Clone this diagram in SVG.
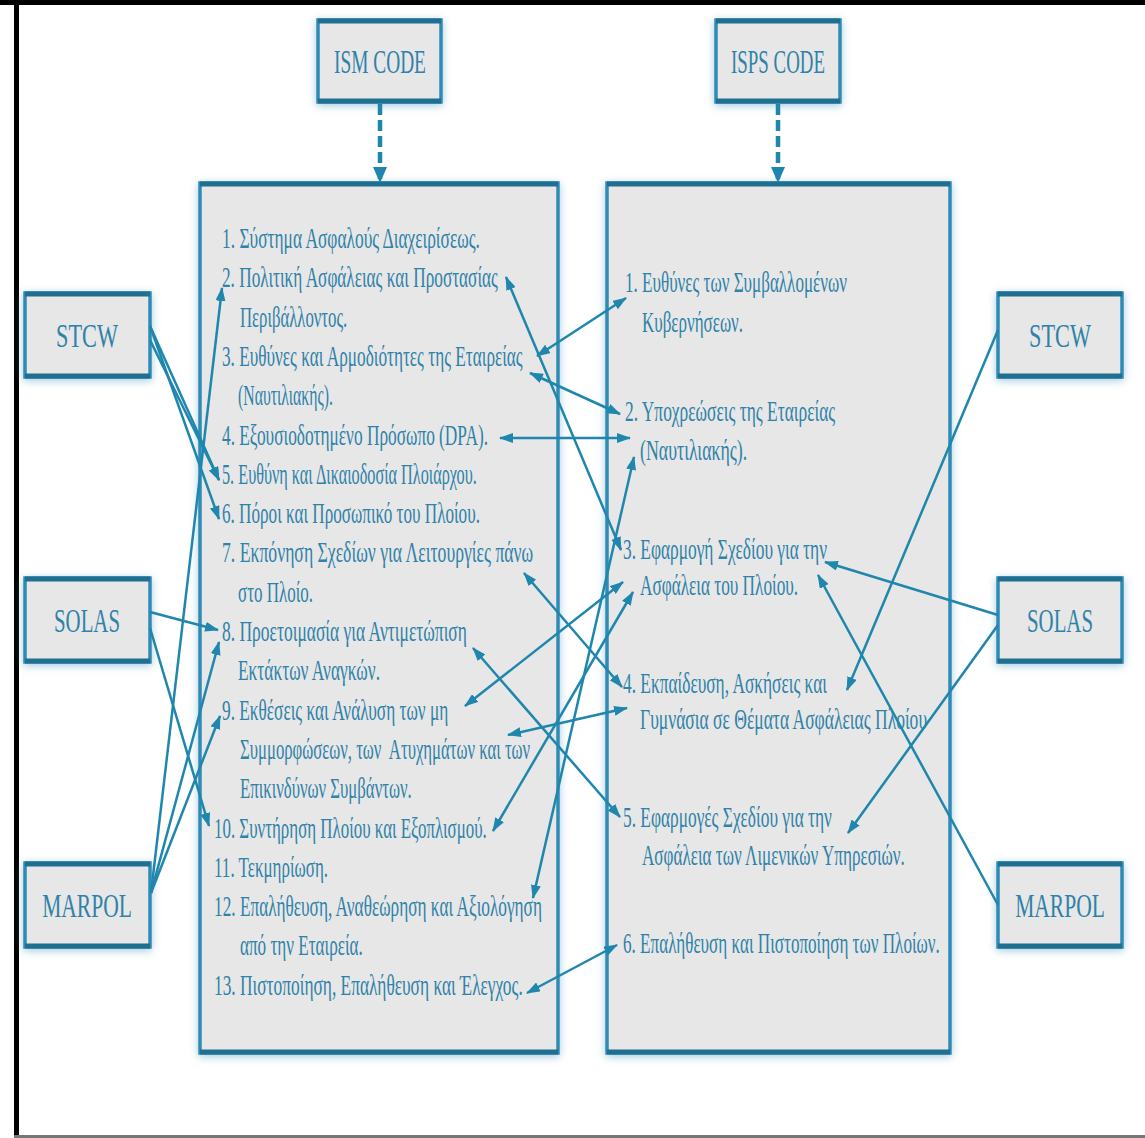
<svg xmlns="http://www.w3.org/2000/svg" width="1145" height="1138" viewBox="0 0 1145 1138">
<defs>
<style>
.t{font-family:"Liberation Serif","Times New Roman",serif;font-size:30px;fill:#2f82a9;white-space:pre}
.lbl{font-family:"Liberation Serif","Times New Roman",serif;font-size:33px;fill:#2f82a9;text-anchor:middle}
.box{fill:#e7e7e7;stroke:#2f8bb5;stroke-width:3.5}
.band{stroke:#1f6f91;stroke-width:5}
.edge{stroke:#1f86ad;stroke-width:2.5;fill:none}
.dash{stroke:#1f86ad;stroke-width:4.5;fill:none;stroke-dasharray:11 5}
</style>
<marker id="ah" viewBox="0 0 14 10" refX="13" refY="5" markerWidth="14" markerHeight="10" markerUnits="userSpaceOnUse" orient="auto-start-reverse">
<path d="M0,0 L14,5 L0,10 z" fill="#1f86ad"/>
</marker>
<marker id="dh" viewBox="0 0 16 14" refX="15" refY="7" markerWidth="16" markerHeight="14" markerUnits="userSpaceOnUse" orient="auto">
<path d="M0,0 L16,7 L0,14 z" fill="#1f86ad"/>
</marker>
<filter id="sh" x="-20%" y="-20%" width="140%" height="140%">
<feGaussianBlur in="SourceAlpha" stdDeviation="4"/>
<feOffset dy="2" result="b"/>
<feFlood flood-color="#7db4cd" flood-opacity="0.7"/>
<feComposite in2="b" operator="in"/>
<feMerge><feMergeNode/><feMergeNode in="SourceGraphic"/></feMerge>
</filter>
</defs>
<rect x="0" y="0" width="1145" height="1138" fill="#ffffff"/>
<rect x="0" y="0" width="1145" height="5" fill="#000"/>
<rect x="14" y="0" width="5" height="1138" fill="#000"/>
<rect x="14" y="1135" width="1131" height="3" fill="#777"/>

<g id="ism">
<rect class="box" x="318" y="20" width="123" height="82" filter="url(#sh)"/>
<line class="band" x1="318" y1="21" x2="441" y2="21"/><line class="band" x1="318" y1="101" x2="441" y2="101"/>
<text class="lbl" transform="translate(380,73) scale(0.68,1)" textLength="135" lengthAdjust="spacingAndGlyphs">ISM CODE</text>
</g>
<g id="isps">
<rect class="box" x="716" y="20" width="124" height="82" filter="url(#sh)"/>
<line class="band" x1="716" y1="21" x2="840" y2="21"/><line class="band" x1="716" y1="101" x2="840" y2="101"/>
<text class="lbl" transform="translate(778,73) scale(0.68,1)" textLength="138" lengthAdjust="spacingAndGlyphs">ISPS CODE</text>
</g>

<g id="ism-list">
<rect class="box" x="200" y="183" width="358" height="870" filter="url(#sh)"/>
<line class="band" x1="200" y1="184" x2="558" y2="184"/><line class="band" x1="200" y1="1052" x2="558" y2="1052"/>
<text class="t" transform="translate(222,248) scale(0.62,1)" textLength="416" lengthAdjust="spacingAndGlyphs">1. Σύστημα Ασφαλούς Διαχειρίσεως.</text>
<text class="t" transform="translate(222,287) scale(0.62,1)" textLength="445" lengthAdjust="spacingAndGlyphs">2. Πολιτική Ασφάλειας και Προστασίας</text>
<text class="t" transform="translate(240,327) scale(0.62,1)" textLength="173" lengthAdjust="spacingAndGlyphs">Περιβάλλοντος.</text>
<text class="t" transform="translate(222,366) scale(0.62,1)" textLength="485" lengthAdjust="spacingAndGlyphs">3. Ευθύνες και Αρμοδιότητες της Εταιρείας</text>
<text class="t" transform="translate(238,405) scale(0.62,1)" textLength="153" lengthAdjust="spacingAndGlyphs">(Ναυτιλιακής).</text>
<text class="t" transform="translate(222,445) scale(0.62,1)" textLength="429" lengthAdjust="spacingAndGlyphs">4. Εξουσιοδοτημένο Πρόσωπο (DPA).</text>
<text class="t" transform="translate(222,484) scale(0.62,1)" textLength="411" lengthAdjust="spacingAndGlyphs">5. Ευθύνη και Δικαιοδοσία Πλοιάρχου.</text>
<text class="t" transform="translate(222,523) scale(0.62,1)" textLength="416" lengthAdjust="spacingAndGlyphs">6. Πόροι και Προσωπικό του Πλοίου.</text>
<text class="t" transform="translate(222,562) scale(0.62,1)" textLength="502" lengthAdjust="spacingAndGlyphs">7. Εκπόνηση Σχεδίων για Λειτουργίες πάνω</text>
<text class="t" transform="translate(238,602) scale(0.62,1)" textLength="121" lengthAdjust="spacingAndGlyphs">στο Πλοίο.</text>
<text class="t" transform="translate(222,641) scale(0.62,1)" textLength="395" lengthAdjust="spacingAndGlyphs">8. Προετοιμασία για Αντιμετώπιση</text>
<text class="t" transform="translate(238,680) scale(0.62,1)" textLength="229" lengthAdjust="spacingAndGlyphs">Εκτάκτων Αναγκών.</text>
<text class="t" transform="translate(222,720) scale(0.62,1)" textLength="365" lengthAdjust="spacingAndGlyphs">9. Εκθέσεις και Ανάλυση των μη</text>
<text class="t" transform="translate(240,759) scale(0.62,1)" textLength="468" lengthAdjust="spacingAndGlyphs">Συμμορφώσεων, των  Ατυχημάτων και των</text>
<text class="t" transform="translate(240,798) scale(0.62,1)" textLength="277" lengthAdjust="spacingAndGlyphs">Επικινδύνων Συμβάντων.</text>
<text class="t" transform="translate(214,838) scale(0.62,1)" textLength="440" lengthAdjust="spacingAndGlyphs">10. Συντήρηση Πλοίου και Εξοπλισμού.</text>
<text class="t" transform="translate(214,877) scale(0.62,1)" textLength="184" lengthAdjust="spacingAndGlyphs">11. Τεκμηρίωση.</text>
<text class="t" transform="translate(214,916) scale(0.62,1)" textLength="529" lengthAdjust="spacingAndGlyphs">12. Επαλήθευση, Αναθεώρηση και Αξιολόγηση</text>
<text class="t" transform="translate(240,955) scale(0.62,1)" textLength="198" lengthAdjust="spacingAndGlyphs">από την Εταιρεία.</text>
<text class="t" transform="translate(214,995) scale(0.62,1)" textLength="498" lengthAdjust="spacingAndGlyphs">13. Πιστοποίηση, Επαλήθευση και Έλεγχος.</text>
</g>

<g id="isps-list">
<rect class="box" x="607" y="183" width="343" height="870" filter="url(#sh)"/>
<line class="band" x1="607" y1="184" x2="950" y2="184"/><line class="band" x1="607" y1="1052" x2="950" y2="1052"/>
<text class="t" transform="translate(625,292) scale(0.62,1)" textLength="358" lengthAdjust="spacingAndGlyphs">1. Ευθύνες των Συμβαλλομένων</text>
<text class="t" transform="translate(642,332) scale(0.62,1)" textLength="163" lengthAdjust="spacingAndGlyphs">Κυβερνήσεων.</text>
<text class="t" transform="translate(625,421) scale(0.62,1)" textLength="339" lengthAdjust="spacingAndGlyphs">2. Υποχρεώσεις της Εταιρείας</text>
<text class="t" transform="translate(640,460) scale(0.62,1)" textLength="173" lengthAdjust="spacingAndGlyphs">(Ναυτιλιακής).</text>
<text class="t" transform="translate(623,559) scale(0.62,1)" textLength="329" lengthAdjust="spacingAndGlyphs">3. Εφαρμογή Σχεδίου για την</text>
<text class="t" transform="translate(640,595) scale(0.62,1)" textLength="255" lengthAdjust="spacingAndGlyphs">Ασφάλεια του Πλοίου.</text>
<text class="t" transform="translate(623,693) scale(0.62,1)" textLength="329" lengthAdjust="spacingAndGlyphs">4. Εκπαίδευση, Ασκήσεις και</text>
<text class="t" transform="translate(640,729) scale(0.62,1)" textLength="463" lengthAdjust="spacingAndGlyphs">Γυμνάσια σε Θέματα Ασφάλειας Πλοίου</text>
<text class="t" transform="translate(623,827) scale(0.62,1)" textLength="337" lengthAdjust="spacingAndGlyphs">5. Εφαρμογές Σχεδίου για την</text>
<text class="t" transform="translate(642,865) scale(0.62,1)" textLength="424" lengthAdjust="spacingAndGlyphs">Ασφάλεια των Λιμενικών Υπηρεσιών.</text>
<text class="t" transform="translate(623,953) scale(0.62,1)" textLength="511" lengthAdjust="spacingAndGlyphs">6. Επαλήθευση και Πιστοποίηση των Πλοίων.</text>
</g>

<g id="stcw-left">
<rect class="box" x="25" y="293" width="125" height="84" filter="url(#sh)"/>
<line class="band" x1="25" y1="294" x2="150" y2="294"/><line class="band" x1="25" y1="376" x2="150" y2="376"/>
<text class="lbl" transform="translate(87,347) scale(0.68,1)" textLength="91" lengthAdjust="spacingAndGlyphs">STCW</text>
</g>
<g id="solas-left">
<rect class="box" x="25" y="578" width="125" height="84" filter="url(#sh)"/>
<line class="band" x1="25" y1="579" x2="150" y2="579"/><line class="band" x1="25" y1="661" x2="150" y2="661"/>
<text class="lbl" transform="translate(87,632) scale(0.68,1)" textLength="97" lengthAdjust="spacingAndGlyphs">SOLAS</text>
</g>
<g id="marpol-left">
<rect class="box" x="25" y="863" width="125" height="84" filter="url(#sh)"/>
<line class="band" x1="25" y1="864" x2="150" y2="864"/><line class="band" x1="25" y1="946" x2="150" y2="946"/>
<text class="lbl" transform="translate(87,917) scale(0.68,1)" textLength="132" lengthAdjust="spacingAndGlyphs">MARPOL</text>
</g>
<g id="stcw-right">
<rect class="box" x="998" y="293" width="124" height="84" filter="url(#sh)"/>
<line class="band" x1="998" y1="294" x2="1122" y2="294"/><line class="band" x1="998" y1="376" x2="1122" y2="376"/>
<text class="lbl" transform="translate(1060,347) scale(0.68,1)" textLength="91" lengthAdjust="spacingAndGlyphs">STCW</text>
</g>
<g id="solas-right">
<rect class="box" x="998" y="578" width="124" height="84" filter="url(#sh)"/>
<line class="band" x1="998" y1="579" x2="1122" y2="579"/><line class="band" x1="998" y1="661" x2="1122" y2="661"/>
<text class="lbl" transform="translate(1060,632) scale(0.68,1)" textLength="97" lengthAdjust="spacingAndGlyphs">SOLAS</text>
</g>
<g id="marpol-right">
<rect class="box" x="998" y="863" width="124" height="84" filter="url(#sh)"/>
<line class="band" x1="998" y1="864" x2="1122" y2="864"/><line class="band" x1="998" y1="946" x2="1122" y2="946"/>
<text class="lbl" transform="translate(1060,917) scale(0.68,1)" textLength="132" lengthAdjust="spacingAndGlyphs">MARPOL</text>
</g>

<g id="connectors">
<line class="dash" x1="380" y1="104" x2="380" y2="182" marker-end="url(#dh)"/>
<line class="dash" x1="778" y1="104" x2="778" y2="182" marker-end="url(#dh)"/>
<line class="edge" x1="150" y1="326" x2="219" y2="480" marker-end="url(#ah)"/>
<line class="edge" x1="150" y1="326" x2="219" y2="519" marker-end="url(#ah)"/>
<line class="edge" x1="150" y1="340" x2="219" y2="480" marker-end="url(#ah)"/>
<line class="edge" x1="150" y1="612" x2="218" y2="630" marker-end="url(#ah)"/>
<line class="edge" x1="150" y1="628" x2="209" y2="826" marker-end="url(#ah)"/>
<line class="edge" x1="151" y1="893" x2="222" y2="288" marker-end="url(#ah)"/>
<line class="edge" x1="151" y1="893" x2="219" y2="642" marker-end="url(#ah)"/>
<line class="edge" x1="151" y1="893" x2="220" y2="716" marker-end="url(#ah)"/>
<line class="edge" x1="506" y1="277" x2="621" y2="550" marker-start="url(#ah)" marker-end="url(#ah)"/>
<line class="edge" x1="537" y1="356" x2="626" y2="298" marker-start="url(#ah)" marker-end="url(#ah)"/>
<line class="edge" x1="530" y1="373" x2="620" y2="414" marker-start="url(#ah)" marker-end="url(#ah)"/>
<line class="edge" x1="500" y1="438" x2="630" y2="438" marker-start="url(#ah)" marker-end="url(#ah)"/>
<line class="edge" x1="533" y1="898" x2="634" y2="457" marker-start="url(#ah)" marker-end="url(#ah)"/>
<line class="edge" x1="524" y1="573" x2="622" y2="687" marker-start="url(#ah)" marker-end="url(#ah)"/>
<line class="edge" x1="473" y1="648" x2="620" y2="817" marker-start="url(#ah)" marker-end="url(#ah)"/>
<line class="edge" x1="465" y1="706" x2="623" y2="582" marker-start="url(#ah)" marker-end="url(#ah)"/>
<line class="edge" x1="508" y1="735" x2="627" y2="708" marker-start="url(#ah)" marker-end="url(#ah)"/>
<line class="edge" x1="493" y1="831" x2="633" y2="592" marker-start="url(#ah)" marker-end="url(#ah)"/>
<line class="edge" x1="527" y1="993" x2="617" y2="945" marker-start="url(#ah)" marker-end="url(#ah)"/>
<line class="edge" x1="998" y1="330" x2="847" y2="690" marker-end="url(#ah)"/>
<line class="edge" x1="998" y1="615" x2="825" y2="562" marker-end="url(#ah)"/>
<line class="edge" x1="998" y1="625" x2="848" y2="833" marker-end="url(#ah)"/>
<line class="edge" x1="998" y1="905" x2="818" y2="575" marker-end="url(#ah)"/>
</g>
</svg>
